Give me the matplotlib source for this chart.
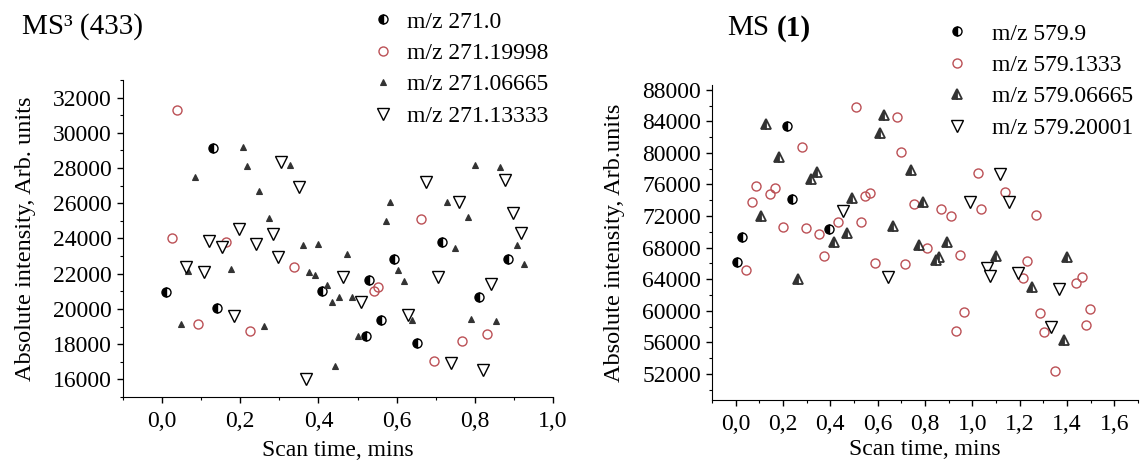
import matplotlib

matplotlib.use("Agg")
import matplotlib.pyplot as plt
from matplotlib.lines import Line2D
from matplotlib.ticker import FuncFormatter, MultipleLocator

plt.rcParams["font.family"] = ["Liberation Serif", "DejaVu Serif"]

# ---- left panel: MS3 (433) ----
ms3_a_x = [0.011, 0.13, 0.14, 0.41, 0.521, 0.53, 0.561, 0.593, 0.651, 0.715, 0.81, 0.885]
ms3_a_y = [20970, 29150, 20060, 21030, 18470, 21640, 19400, 22820, 18070, 23820, 20690, 22820]

ms3_b_x = [0.037, 0.026, 0.163, 0.092, 0.226, 0.337, 0.663, 0.542, 0.552, 0.766, 0.831, 0.695]
ms3_b_y = [31270, 24020, 23820, 19120, 18750, 22360, 25100, 21010, 21230, 18170, 18600, 17030]

ms3_c_x = [0.207, 0.218, 0.084, 0.249, 0.328, 0.273, 0.36, 0.40, 0.377, 0.391, 0.423, 0.434,
           0.067, 0.175, 0.048, 0.26, 0.443, 0.474, 0.453, 0.487, 0.583, 0.572, 0.603, 0.62,
           0.64, 0.50, 0.729, 0.782, 0.749, 0.801, 0.865, 0.907, 0.927, 0.789, 0.855]
ms3_c_y = [29180, 28100, 27490, 26670, 28190, 25190, 23640, 23690, 22110, 21930, 21360, 20370,
           22150, 22250, 19120, 19040, 16740, 23100, 20690, 20690, 26100, 25000, 22210, 21580,
           19360, 18470, 26100, 25210, 23480, 28190, 28040, 23640, 22540, 19420, 19300]

ms3_d_x = [0.304, 0.35, 0.196, 0.283, 0.12, 0.153, 0.241, 0.296, 0.062, 0.107, 0.184, 0.368,
           0.462, 0.508, 0.676, 0.759, 0.876, 0.897, 0.918, 0.706, 0.842, 0.63, 0.74, 0.822]
ms3_d_y = [28350, 26900, 24530, 24260, 23860, 23500, 23680, 22930, 22400, 22110, 19590, 16040,
           21830, 20400, 27210, 26070, 27340, 25440, 24300, 21830, 21400, 19650, 16950, 16510]

ms3_labels = ["m/z 271.0", "m/z 271.19998", "m/z 271.06665", "m/z 271.13333"]

# ---- right panel: MS (1) ----
ms1_a_x = [0.218, 0.24, 0.027, 0.006, 0.395]
ms1_a_y = [83430, 74110, 69340, 66220, 70320]

ms1_b_x = [0.51, 0.681, 0.279, 0.699, 0.085, 0.167, 0.143, 0.069, 0.545, 0.569, 0.755, 0.199,
           0.297, 0.353, 0.433, 0.528, 0.374, 0.043, 0.587, 0.716, 0.81, 1.022, 1.139, 0.868,
           0.91, 1.038, 1.269, 0.947, 1.232, 1.216, 1.463, 1.44, 0.964, 0.929, 1.286, 1.304,
           1.499, 1.482, 1.349]
ms1_b_y = [85840, 84570, 80770, 80140, 75840, 75500, 74750, 73810, 74530, 74870, 73480, 70650,
           70440, 69720, 71280, 71280, 66970, 65160, 66090, 65890, 67990, 77400, 75080, 72850,
           72000, 72850, 72130, 67060, 66300, 64110, 64320, 63480, 59890, 57440, 59680, 57280,
           60230, 58200, 52420]

ms1_c_x = [0.127, 0.625, 0.608, 0.183, 0.342, 0.318, 0.741, 0.493, 0.793, 0.108, 0.664, 0.472,
           0.415, 0.776, 0.262, 0.891, 0.845, 0.858, 1.101, 1.398, 1.251, 1.387]
ms1_c_y = [83650, 84780, 82540, 79510, 77610, 76640, 77820, 74320, 73730, 72000, 70730, 69890,
           68670, 68330, 63990, 68750, 66430, 66770, 66970, 66770, 63050, 56300]

ms1_d_x = [0.454, 0.643, 1.118, 0.989, 1.157, 1.062, 1.076, 1.195, 1.367, 1.332]
ms1_d_y = [72630, 64240, 77280, 73810, 73810, 65380, 64400, 64750, 62760, 57990]

ms1_labels = ["m/z 579.9", "m/z 579.1333", "m/z 579.06665", "m/z 579.20001"]

RED = "#bb5055"
DARK = "#333333"
FONT = 17
W, H = 1143, 462


def comma(value, _pos):
    return f"{value:.1f}".replace(".", ",")


def style_axes(ax, xlim, ylim, xmajor, ymajor, yminor, xpad):
    ax.set_xlim(*xlim)
    ax.set_ylim(*ylim)
    ax.spines["top"].set_visible(False)
    ax.spines["right"].set_visible(False)
    ax.xaxis.set_major_locator(MultipleLocator(xmajor))
    ax.xaxis.set_minor_locator(MultipleLocator(xmajor / 2))
    ax.yaxis.set_major_locator(MultipleLocator(ymajor))
    ax.yaxis.set_minor_locator(MultipleLocator(yminor))
    ax.xaxis.set_major_formatter(FuncFormatter(comma))
    ax.tick_params(labelsize=FONT, direction="out", length=4, width=1)
    ax.tick_params(axis="x", pad=6)
    ax.tick_params(axis="y", pad=4)
    ax.tick_params(which="minor", direction="out", length=2.5, width=0.8)
    ax.set_xlabel("Scan time, mins", fontsize=FONT, labelpad=xpad)


def marker_styles(big):
    if big:
        tri = dict(marker="^", ms=7.5, mfc=DARK, mec=DARK, fillstyle="left",
                   markerfacecoloralt="white", mew=1.3)
    else:
        tri = dict(marker="^", ms=5, mfc=DARK, mec=DARK, mew=0.8)
    return [
        dict(marker="o", ms=6.5, mfc="black", mec="black", fillstyle="left",
             markerfacecoloralt="white", mew=1.0),
        dict(marker="o", ms=6.5, mfc="none", mec=RED, mew=1.0),
        tri,
        dict(marker="v", ms=8, mfc="white", mec="black", mew=1.0),
    ]


def draw_panel(ax, series, labels, big, anchor, textpad):
    styles = marker_styles(big)
    handles = []
    for (xs, ys), st in zip(series, styles):
        ax.plot(xs, ys, linestyle="none", **st)
        handles.append(Line2D([], [], linestyle="none", **st))
    ax.legend(handles, labels, loc="upper left", bbox_to_anchor=(anchor[0] / W, 1 - anchor[1] / H),
              bbox_transform=ax.figure.transFigure, frameon=False, fontsize=FONT,
              handletextpad=textpad, labelspacing=0.42, borderpad=0, borderaxespad=0,
              handlelength=1.2)


fig = plt.figure(figsize=(W / 100, H / 100), dpi=100)
ax1 = fig.add_axes([123 / W, 65 / H, 430 / W, 317 / H])
ax2 = fig.add_axes([712 / W, 62 / H, 426 / W, 315 / H])

draw_panel(ax1, [(ms3_a_x, ms3_a_y), (ms3_b_x, ms3_b_y), (ms3_c_x, ms3_c_y), (ms3_d_x, ms3_d_y)],
           ms3_labels, False, (369, 11), 0.41)
style_axes(ax1, (-0.1, 1.0), (15000, 33000), 0.2, 2000, 1000, 6)
ax1.set_ylabel("Absolute intensity, Arb. units", fontsize=17.5, labelpad=12)
fig.text(22 / W, 1 - 27 / H, "MS³ (433)", fontsize=21, va="center", ha="left")

draw_panel(ax2, [(ms1_a_x, ms1_a_y), (ms1_b_x, ms1_b_y), (ms1_c_x, ms1_c_y), (ms1_d_x, ms1_d_y)],
           ms1_labels, True, (943, 23), 0.88)
style_axes(ax2, (-0.1, 1.7), (48700, 88600), 0.2, 4000, 2000, 3)
ax2.set_ylabel("Absolute intensity, Arb.units", fontsize=17.5, labelpad=12)
fig.text(727 / W, 1 - 28 / H, "MS", fontsize=21, va="center", ha="left")
fig.text(777 / W, 1 - 28 / H, "(1)", fontsize=21, va="center", ha="left", fontweight="bold")

fig.savefig("out.png", dpi=100)
plt.close(fig)
